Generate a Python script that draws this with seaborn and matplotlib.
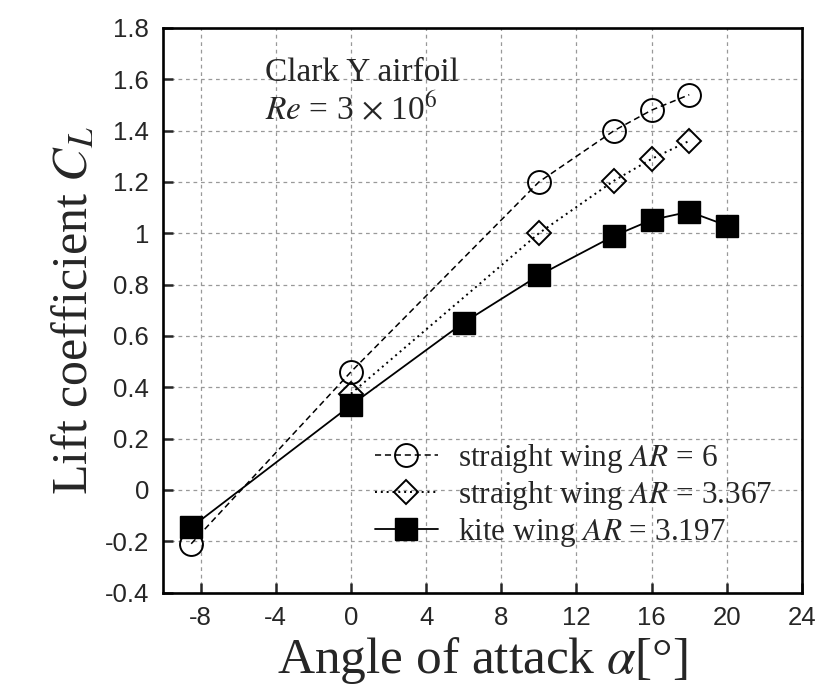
import numpy as np
import pandas as pd
import seaborn as sns
import matplotlib
matplotlib.use("Agg")
import matplotlib.pyplot as plt

# ---- data ----
alpha_ar6 = [-8.5, 0, 10, 14, 16, 18]
cl_ar6 = [-0.21, 0.46, 1.20, 1.40, 1.48, 1.54]

alpha_ar3367 = [0, 10, 14, 16, 18]
cl_ar3367 = [0.375, 1.00, 1.205, 1.29, 1.36]

alpha_kite = [-8.5, 0, 6, 10, 14, 16, 18, 20]
cl_kite = [-0.146, 0.33, 0.652, 0.836, 0.99, 1.052, 1.084, 1.03]

series_labels = ["straight wing $AR$ = 6",
                 "straight wing $AR$ = 3.367",
                 "kite wing $AR$ = 3.197"]

xticks = [-8, -4, 0, 4, 8, 12, 16, 20, 24]
xtick_labels = ["-8", "-4", "0", "4", "8", "12", "16", "20", "24"]
yticks = [-0.4, -0.2, 0, 0.2, 0.4, 0.6, 0.8, 1.0, 1.2, 1.4, 1.6, 1.8]
ytick_labels = ["-0.4", "-0.2", "0", "0.2", "0.4", "0.6", "0.8", "1",
                "1.2", "1.4", "1.6", "1.8"]

annot_line1 = "Clark Y airfoil"
annot_line2 = r"$Re$ = 3 $\times$ 10$^6$"
xlabel = r"Angle of attack $\alpha$[°]"
ylabel = r"Lift coefficient $C_L$"

# ---- style ----
sns.set_style("ticks")
plt.rcParams["mathtext.fontset"] = "stix"
plt.rcParams["axes.unicode_minus"] = False
SERIF = ["Liberation Serif", "DejaVu Serif"]
SANS = ["Liberation Sans", "DejaVu Sans"]
plt.rcParams["font.family"] = SERIF

fig = plt.figure(figsize=(8.3, 6.93), dpi=100)
ax = fig.add_axes([0.1964, 0.145, 0.9663 - 0.1964, 0.9596 - 0.145])

df1 = pd.DataFrame({"alpha": alpha_ar6, "cl": cl_ar6})
df2 = pd.DataFrame({"alpha": alpha_ar3367, "cl": cl_ar3367})
df3 = pd.DataFrame({"alpha": alpha_kite, "cl": cl_kite})

sns.lineplot(data=df1, x="alpha", y="cl", ax=ax, color="black",
             linestyle=(0, (4, 2.5)), linewidth=1.1,
             marker="o", markersize=16.5, markerfacecolor="none",
             markeredgecolor="black", markeredgewidth=1.4,
             label=series_labels[0], zorder=3)
sns.lineplot(data=df2, x="alpha", y="cl", ax=ax, color="black",
             linestyle=(0, (1, 2)), linewidth=1.4,
             marker="D", markersize=12.5, markerfacecolor="none",
             markeredgecolor="black", markeredgewidth=1.4,
             label=series_labels[1], zorder=4)
sns.lineplot(data=df3, x="alpha", y="cl", ax=ax, color="black",
             linestyle="-", linewidth=1.3,
             marker="s", markersize=15.5, markerfacecolor="black",
             markeredgecolor="black", markeredgewidth=1.0,
             label=series_labels[2], zorder=5)

ax.set_xlim(-10, 24)
ax.set_ylim(-0.4, 1.8)
ax.set_xticks(xticks)
ax.set_xticklabels(xtick_labels, fontfamily=SANS, fontsize=18.5)
ax.set_yticks(yticks)
ax.set_yticklabels(ytick_labels, fontfamily=SANS, fontsize=18.5)
ax.tick_params(direction="in", length=7, width=1.8, pad=10,
               top=False, right=False)

ax.grid(True, color="#999999", linestyle=(0, (3, 3)), linewidth=0.9)
ax.set_axisbelow(True)
for sp in ax.spines.values():
    sp.set_linewidth(1.9)
    sp.set_color("black")

ax.set_xlabel(xlabel, fontsize=37, fontfamily=SERIF, labelpad=3)
ax.set_ylabel(ylabel, fontsize=36, fontfamily=SERIF, labelpad=4.5)

ax.text(-4.6, 1.593, annot_line1, fontsize=24, fontfamily=SERIF,
        va="baseline", ha="left")
ax.text(-4.6, 1.441, annot_line2, fontsize=24, fontfamily=SERIF,
        va="baseline", ha="left")

leg = ax.legend(loc="center left", bbox_to_anchor=(0.332, 0.172),
                frameon=False, fontsize=22.5, handlelength=2.0,
                handletextpad=0.64, labelspacing=0.12, borderpad=0,
                borderaxespad=0)

fig.savefig("out.png", dpi=100)
